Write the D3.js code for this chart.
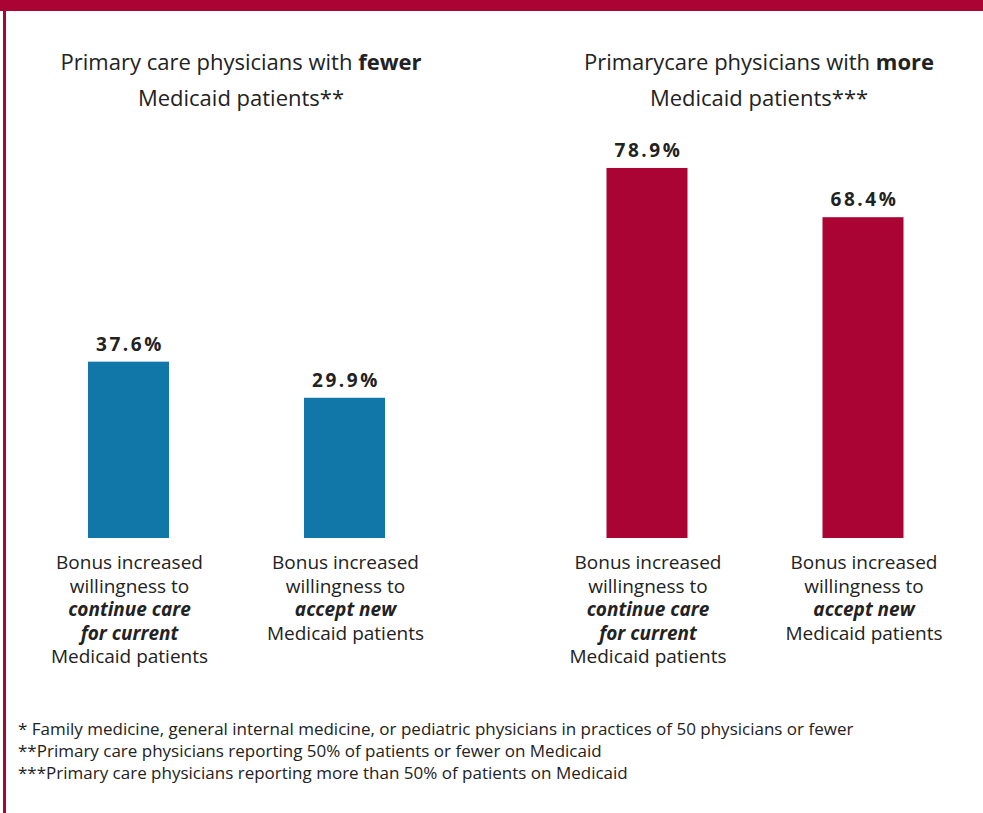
<!DOCTYPE html>
<html><head><meta charset="utf-8">
<script src="https://cdn.jsdelivr.net/npm/d3@7"></script>
<style>
html,body{margin:0;padding:0;background:#fff;}
svg{display:block;font-family:"Open Sans",sans-serif;}
</style></head>
<body><svg id="c" width="983" height="813"></svg>
<script>
const groups = ["fewer", "more"];
const groupTitles = [
  [["Primary care physicians with ", false], ["fewer", true]],
  [["Primarycare physicians with ", false], ["more", true]]
];
const groupSubtitles = ["Medicaid patients**", "Medicaid patients***"];
const categories = ["continue", "accept"];
const valuesFewer = [37.6, 29.9];
const valuesMore = [78.9, 68.4];
const categoryLabels = [
  [["Bonus increased", "n"], ["willingness to", "n"], ["continue care", "bi"], ["for current", "bi"], ["Medicaid patients", "n"]],
  [["Bonus increased", "n"], ["willingness to", "n"], ["accept new", "bi"], ["Medicaid patients", "n"]]
];
const footnotes = [
  "* Family medicine, general internal medicine, or pediatric physicians in practices of 50 physicians or fewer",
  "**Primary care physicians reporting 50% of patients or fewer on Medicaid",
  "***Primary care physicians reporting more than 50% of patients on Medicaid"
];
const groupColors = ["#1177A8", "#AA0434"];

const svg = d3.select("#c");
const W = 983, H = 813;
const red = "#AA0434";

// frame
svg.append("rect").attr("x", 0).attr("y", 0).attr("width", W).attr("height", 11).attr("fill", red);
svg.append("rect").attr("x", 3).attr("y", 0).attr("width", 3).attr("height", H).attr("fill", red);

const baseY = 538;
const y = d3.scaleLinear().domain([0, 100]).range([baseY, baseY - 469]);
const xg = d3.scalePoint().domain(groups).range([237, 755.5]);
const xc = d3.scalePoint().domain(categories).range([-108.5, 107.5]);
const barW = 81;

const data = [];
groups.forEach((g, gi) => {
  const vals = gi === 0 ? valuesFewer : valuesMore;
  categories.forEach((c, ci) => data.push({g, gi, c, ci, v: vals[ci]}));
});

// titles
groups.forEach((g, gi) => {
  const cx = xg(g) + (gi === 0 ? 4 : 3.5);
  const t = svg.append("text").attr("x", cx).attr("y", 70).attr("text-anchor", "middle")
    .attr("font-size", 22).attr("fill", "#222");
  groupTitles[gi].forEach(([s, b]) => t.append("tspan").text(s).attr("font-weight", b ? 700 : 400));
  svg.append("text").attr("x", cx).attr("y", 106).attr("text-anchor", "middle")
    .attr("font-size", 22).attr("fill", "#222").text(groupSubtitles[gi]);
});

// bars
svg.selectAll("rect.bar").data(data).enter().append("rect").attr("class", "bar")
  .attr("x", d => xg(d.g) + xc(d.c) - barW / 2)
  .attr("y", d => y(d.v))
  .attr("width", barW)
  .attr("height", d => y(0) - y(d.v))
  .attr("fill", d => groupColors[d.gi]);

// value labels
svg.selectAll("text.val").data(data).enter().append("text").attr("class", "val")
  .attr("x", d => xg(d.g) + xc(d.c) + 1.5)
  .attr("y", d => y(d.v) - 11)
  .attr("text-anchor", "middle")
  .attr("font-size", 19).attr("font-weight", 700).attr("letter-spacing", 2.6)
  .attr("fill", "#222")
  .text(d => d.v.toFixed(1) + "%");

// category labels
data.forEach(d => {
  const lines = categoryLabels[d.ci];
  lines.forEach((ln, li) => {
    svg.append("text")
      .attr("x", xg(d.g) + xc(d.c) + 1)
      .attr("y", 569 + li * 23.5)
      .attr("text-anchor", "middle")
      .attr("font-size", 19)
      .attr("fill", "#222")
      .attr("font-weight", ln[1] === "bi" ? 700 : 400)
      .attr("font-style", ln[1] === "bi" ? "italic" : "normal")
      .text(ln[0]);
  });
});

// footnotes
footnotes.forEach((f, i) => {
  svg.append("text").attr("x", 18).attr("y", 735 + i * 22).attr("font-size", 17)
    .attr("fill", "#222").text(f);
});
</script></body></html>
